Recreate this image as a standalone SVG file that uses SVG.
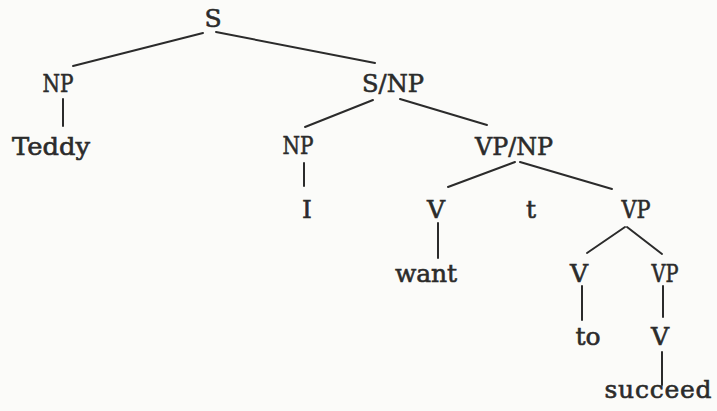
<svg xmlns="http://www.w3.org/2000/svg" width="717" height="411" viewBox="0 0 717 411">
<style>
text{font-family:"DejaVu Serif","Liberation Serif",serif;font-size:25px;fill:#2b2b2b;stroke:#2b2b2b;stroke-width:0.6;text-anchor:middle}
.e line{stroke:#2b2b2b;stroke-width:2;stroke-linecap:round}
</style>
<rect width="717" height="411" fill="#fbfbf9"/>
<g class="e" id="connectors">
<line x1="203" y1="33" x2="73" y2="66"/>
<line x1="216" y1="32" x2="375" y2="63"/>
<line x1="63" y1="99" x2="63" y2="126"/>
<line x1="373" y1="100" x2="305" y2="127"/>
<line x1="400" y1="99" x2="487" y2="125"/>
<line x1="304" y1="163" x2="304" y2="186"/>
<line x1="515" y1="162" x2="448" y2="187"/>
<line x1="520" y1="162" x2="612" y2="189"/>
<line x1="438" y1="223" x2="438" y2="258"/>
<line x1="625" y1="227" x2="587" y2="253"/>
<line x1="627" y1="227" x2="662" y2="254"/>
<line x1="582" y1="286" x2="582" y2="320"/>
<line x1="663" y1="286" x2="663" y2="317"/>
<line x1="662" y1="352" x2="662" y2="385"/>
</g>
<g id="n-S"><text x="213" y="27">S</text></g>
<g id="n-NP1"><text x="58" y="92" textLength="31" lengthAdjust="spacingAndGlyphs">NP</text></g>
<g id="n-Teddy"><text x="51" y="155" textLength="78" lengthAdjust="spacingAndGlyphs">Teddy</text></g>
<g id="n-SNP"><text x="393" y="92" textLength="62" lengthAdjust="spacingAndGlyphs">S/NP</text></g>
<g id="n-NP2"><text x="298" y="154" textLength="31" lengthAdjust="spacingAndGlyphs">NP</text></g>
<g id="n-I"><text x="307" y="218">I</text></g>
<g id="n-VPNP"><text x="514" y="155" textLength="78" lengthAdjust="spacingAndGlyphs">VP/NP</text></g>
<g id="n-V1"><text x="436" y="218">V</text></g>
<g id="n-t"><text x="531" y="218">t</text></g>
<g id="n-VP1"><text x="636" y="218" textLength="29" lengthAdjust="spacingAndGlyphs">VP</text></g>
<g id="n-want"><text x="426" y="282" textLength="62" lengthAdjust="spacing">want</text></g>
<g id="n-V2"><text x="579" y="282">V</text></g>
<g id="n-VP2"><text x="665" y="282" textLength="27" lengthAdjust="spacingAndGlyphs">VP</text></g>
<g id="n-to"><text x="588" y="345">to</text></g>
<g id="n-V3"><text x="660" y="345">V</text></g>
<g id="n-succeed"><text x="658" y="398" textLength="107" lengthAdjust="spacing">succeed</text></g>
</svg>
